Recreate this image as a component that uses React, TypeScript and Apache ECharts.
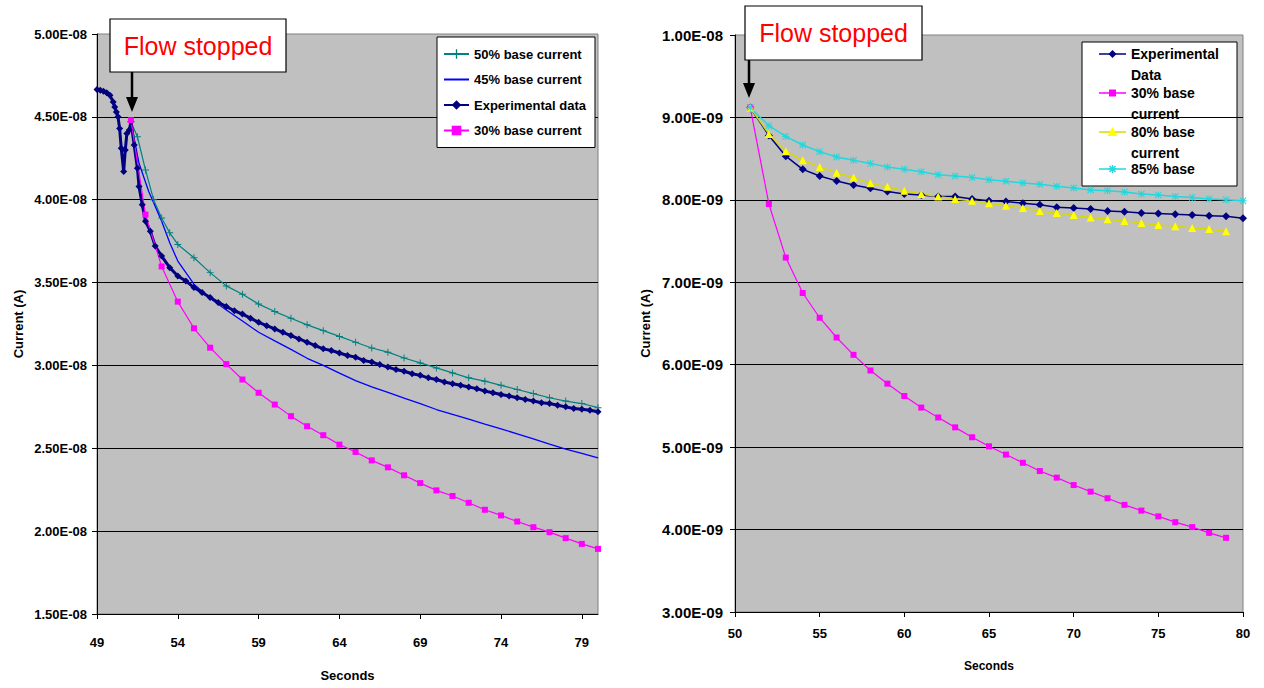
import React, { useEffect, useRef } from "react";
import * as echarts from "echarts";

// ---- Left panel: current in units of 1E-08 A ----
const leftExpTime = [
  49.0, 49.2, 49.4, 49.6, 49.8, 50.0, 50.1, 50.2, 50.3,
  50.4, 50.5, 50.65, 50.75, 50.85, 51.0, 51.1,
  51.3, 51.5, 51.6, 51.8, 52.0, 52.3, 52.6,
  53.0, 53.5, 54.0, 54.5, 55.0, 55.5, 56.0, 56.5, 57.0, 57.5, 58.0, 58.5,
  59.0, 59.5, 60.0, 60.5, 61.0, 61.5, 62.0, 62.5, 63.0, 63.5, 64.0, 64.5,
  65.0, 65.5, 66.0, 66.5, 67.0, 67.5, 68.0, 68.5, 69.0, 69.5, 70.0, 70.5,
  71.0, 71.5, 72.0, 72.5, 73.0, 73.5, 74.0, 74.5, 75.0, 75.5, 76.0, 76.5,
  77.0, 77.5, 78.0, 78.5, 79.0, 79.5, 80.0,
];
const leftExpCurrent = [
  4.665, 4.66, 4.655, 4.645, 4.63, 4.59, 4.56, 4.53, 4.5,
  4.43, 4.31, 4.17, 4.3, 4.4, 4.42, 4.47,
  4.33, 4.19, 4.08, 3.97, 3.87, 3.81, 3.72,
  3.66, 3.59, 3.54, 3.51, 3.47, 3.44, 3.41, 3.38, 3.355, 3.33, 3.31, 3.285,
  3.26, 3.24, 3.22, 3.2, 3.18, 3.16, 3.14, 3.12, 3.1, 3.09, 3.075, 3.06,
  3.05, 3.03, 3.02, 3.005, 2.99, 2.975, 2.965, 2.95, 2.94, 2.925, 2.915, 2.9,
  2.89, 2.88, 2.87, 2.86, 2.845, 2.835, 2.825, 2.815, 2.805, 2.795, 2.785, 2.775,
  2.77, 2.76, 2.75, 2.74, 2.735, 2.73, 2.72,
];

const left50Time = [
  51.1, 51.5, 52.0, 52.5, 53.0, 53.5,
  54, 55, 56, 57, 58, 59, 60, 61, 62, 63, 64, 65, 66, 67,
  68, 69, 70, 71, 72, 73, 74, 75, 76, 77, 78, 79, 80,
];
const left50Current = [
  4.47, 4.38, 4.18, 4.0, 3.89, 3.8,
  3.73, 3.65, 3.56, 3.48, 3.43, 3.37, 3.325, 3.285, 3.245, 3.21, 3.175, 3.14, 3.105, 3.08,
  3.045, 3.015, 2.985, 2.955, 2.925, 2.905, 2.88, 2.855, 2.83, 2.805, 2.785, 2.77, 2.745,
];

const left45Time = [
  51.1, 51.6, 52.2, 53.0, 53.5,
  54, 55, 56, 57, 58, 59, 60, 61, 62, 63, 64, 65, 66, 67,
  68, 69, 70, 71, 72, 73, 74, 75, 76, 77, 78, 79, 80,
];
const left45Current = [
  4.47, 4.22, 4.05, 3.87, 3.74,
  3.63, 3.49, 3.405, 3.335, 3.268, 3.2, 3.148, 3.097, 3.043, 3.0, 2.954, 2.908, 2.871, 2.837,
  2.803, 2.77, 2.734, 2.704, 2.676, 2.646, 2.617, 2.587, 2.557, 2.525, 2.495, 2.47, 2.442,
];

const left30Time = [
  51.1, 52, 53, 54, 55, 56, 57, 58, 59, 60, 61, 62, 63, 64, 65,
  66, 67, 68, 69, 70, 71, 72, 73, 74, 75, 76, 77, 78, 79, 80,
];
const left30Current = [
  4.48, 3.91, 3.597, 3.385, 3.224, 3.107, 3.008, 2.915, 2.835, 2.764, 2.694, 2.633, 2.579, 2.522, 2.478,
  2.427, 2.385, 2.337, 2.29, 2.246, 2.212, 2.171, 2.129, 2.095, 2.058, 2.024, 1.994, 1.958, 1.923, 1.893,
];

const leftXTicks = [49, 54, 59, 64, 69, 74, 79];

// ---- Right panel: current in units of 1E-09 A ----
const rightTimeTo80 = [
  50.9, 52, 53, 54, 55, 56, 57, 58, 59, 60, 61, 62, 63, 64, 65,
  66, 67, 68, 69, 70, 71, 72, 73, 74, 75, 76, 77, 78, 79, 80,
];
const rightTimeTo79 = [
  50.9, 52, 53, 54, 55, 56, 57, 58, 59, 60, 61, 62, 63, 64, 65,
  66, 67, 68, 69, 70, 71, 72, 73, 74, 75, 76, 77, 78, 79,
];
const rightExpCurrent = [
  9.12, 8.78, 8.53, 8.37, 8.29, 8.23, 8.18, 8.14, 8.1, 8.07, 8.06, 8.04, 8.04, 8.01, 7.99,
  7.98, 7.96, 7.94, 7.91, 7.9, 7.89, 7.865, 7.857, 7.84, 7.833, 7.824, 7.816, 7.808, 7.8, 7.776,
];
const right30Current = [
  9.12, 7.95, 7.3, 6.87, 6.57, 6.33, 6.12, 5.93, 5.77, 5.62, 5.48, 5.36, 5.24, 5.12, 5.01,
  4.91, 4.81, 4.71, 4.63, 4.54, 4.46, 4.38, 4.3, 4.23, 4.16, 4.09, 4.03, 3.96, 3.9,
];
const right80Current = [
  9.12, 8.8, 8.59, 8.48, 8.4, 8.33, 8.27, 8.2, 8.16, 8.11, 8.07, 8.04, 8.01, 7.99, 7.96,
  7.93, 7.9, 7.865, 7.84, 7.815, 7.785, 7.765, 7.745, 7.72, 7.695, 7.68, 7.66, 7.645, 7.62,
];
const right85Current = [
  9.12, 8.9, 8.77, 8.665, 8.585, 8.52, 8.48, 8.44, 8.4, 8.37, 8.34, 8.305, 8.29, 8.27, 8.245,
  8.225, 8.205, 8.19, 8.165, 8.145, 8.12, 8.11, 8.095, 8.07, 8.06, 8.04, 8.03, 8.01, 8.0, 7.99,
];

const leftLegendNames = ["50% base current", "45% base current", "Experimental data", "30% base current"];
const rightLegendLabels = [["Experimental", "Data"], ["30% base", "current"], ["80% base", "current"], ["85% base"]];

const FONT = '"Liberation Sans", Arial, Helvetica, sans-serif';
const NAVY = "#000080";
const MAGENTA = "#FF00FF";
const TEAL = "#008080";
const BLUE = "#0000FF";
const YELLOW = "#FFFF00";
const YELLOW_LINE = "#D8D800";
const CYAN = "#20D8DD";

const PLUS = "path://M0,4.3H10V5.7H0Z M4.3,0H5.7V10H4.3Z";
const STAR = "path://M0,4.3H10V5.7H0Z M4.3,0H5.7V10H4.3Z M1,0L10,9L9,10L0,1Z M9,0L10,1L1,10L0,9Z";

function pairs(xs: number[], ys: number[]) {
  return xs.map((x, i) => [x, ys[i]]);
}

function sci(v: number, exp: number) {
  const real = v * Math.pow(10, exp);
  const [m, e] = real.toExponential(2).split("e");
  const n = parseInt(e, 10);
  return `${m}E${n < 0 ? "-" : "+"}${String(Math.abs(n)).padStart(2, "0")}`;
}

const boldText = (size: number) => ({
  fontSize: size,
  fontWeight: "bold" as const,
  color: "#000",
  fontFamily: FONT,
});

function flowStopped(x: number, y: number, w: number, h: number, arrowX: number, tipY: number) {
  return [
    {
      type: "rect",
      z: 100,
      shape: { x, y, width: w, height: h },
      style: { fill: "#fff", stroke: "#000", lineWidth: 1.2 },
    },
    {
      type: "text",
      z: 101,
      x: x + w / 2,
      y: y + h / 2,
      style: {
        text: "Flow stopped",
        fill: "#FF0000",
        fontSize: 25,
        fontFamily: FONT,
        align: "center",
        verticalAlign: "middle",
      },
    },
    {
      type: "line",
      z: 100,
      shape: { x1: arrowX, y1: y + h, x2: arrowX, y2: tipY - 12 },
      style: { stroke: "#000", lineWidth: 2.5 },
    },
    {
      type: "polygon",
      z: 100,
      shape: {
        points: [
          [arrowX - 6, tipY - 15],
          [arrowX + 6, tipY - 15],
          [arrowX, tipY],
        ],
      },
      style: { fill: "#000" },
    },
  ];
}

function legendMarker(kind: string, cx: number, cy: number, color: string) {
  if (kind === "diamond") {
    return [{ type: "polygon", shape: { points: [[cx, cy - 4], [cx + 4, cy], [cx, cy + 4], [cx - 4, cy]] }, style: { fill: color } }];
  }
  if (kind === "square") {
    return [{ type: "rect", shape: { x: cx - 3.5, y: cy - 3.5, width: 7, height: 7 }, style: { fill: color } }];
  }
  if (kind === "triangle") {
    return [{ type: "polygon", shape: { points: [[cx, cy - 5], [cx + 5, cy + 4], [cx - 5, cy + 4]] }, style: { fill: color } }];
  }
  // asterisk
  return [
    { type: "line", shape: { x1: cx - 4, y1: cy, x2: cx + 4, y2: cy }, style: { stroke: color, lineWidth: 1.5 } },
    { type: "line", shape: { x1: cx, y1: cy - 4, x2: cx, y2: cy + 4 }, style: { stroke: color, lineWidth: 1.5 } },
    { type: "line", shape: { x1: cx - 3, y1: cy - 3, x2: cx + 3, y2: cy + 3 }, style: { stroke: color, lineWidth: 1.5 } },
    { type: "line", shape: { x1: cx + 3, y1: cy - 3, x2: cx - 3, y2: cy + 3 }, style: { stroke: color, lineWidth: 1.5 } },
  ];
}

function rightLegend() {
  const rows = [54, 93, 132, 169];
  const styles = [
    { color: NAVY, line: NAVY, kind: "diamond" },
    { color: MAGENTA, line: MAGENTA, kind: "square" },
    { color: YELLOW, line: YELLOW_LINE, kind: "triangle" },
    { color: CYAN, line: CYAN, kind: "star" },
  ];
  const children: any[] = [
    {
      type: "rect",
      shape: { x: 1082, y: 42, width: 155, height: 144 },
      style: { fill: "#fff", stroke: "#000", lineWidth: 1 },
    },
  ];
  rightLegendLabels.forEach((lines, i) => {
    const y = rows[i];
    const s = styles[i];
    children.push({
      type: "line",
      shape: { x1: 1099, y1: y, x2: 1126, y2: y },
      style: { stroke: s.line, lineWidth: 1.5 },
    });
    children.push(...legendMarker(s.kind, 1112.5, y, s.color));
    lines.forEach((t, j) => {
      children.push({
        type: "text",
        x: 1131,
        y: y + j * 20.5,
        style: {
          text: t,
          fill: "#000",
          fontSize: 14,
          fontWeight: "bold",
          fontFamily: FONT,
          align: "left",
          verticalAlign: "middle",
        },
      });
    });
  });
  return { type: "group", z: 100, children };
}

export default function App() {
  const ref = useRef<HTMLDivElement>(null);

  useEffect(() => {
    if (!ref.current) return;
    const chart = echarts.init(ref.current, null, { renderer: "svg" });

    const lineBase = {
      type: "line" as const,
      showSymbol: true,
      showAllSymbol: true,
      silent: true,
      emphasis: { disabled: true },
      animation: false,
    };

    const option: any = {
      animation: false,
      backgroundColor: "#fff",
      textStyle: { fontFamily: FONT },
      grid: [
        {
          left: 97,
          top: 34,
          width: 501,
          height: 580,
          show: true,
          backgroundColor: "#C0C0C0",
          borderColor: "#808080",
          borderWidth: 1,
        },
        {
          left: 735,
          top: 35,
          width: 508,
          height: 577,
          show: true,
          backgroundColor: "#C0C0C0",
          borderColor: "#808080",
          borderWidth: 1,
        },
      ],
      xAxis: [
        {
          gridIndex: 0,
          type: "value",
          min: 49,
          max: 80,
          name: "Seconds",
          nameLocation: "middle",
          nameGap: 55,
          nameTextStyle: boldText(13),
          axisLine: { show: true, onZero: false, lineStyle: { color: "#000", width: 1 } },
          axisTick: { show: true, length: 5, customValues: leftXTicks, lineStyle: { color: "#000" } },
          axisLabel: { customValues: leftXTicks, margin: 22, ...boldText(13) },
          splitLine: { show: false },
        },
        {
          gridIndex: 1,
          type: "value",
          min: 50,
          max: 80,
          interval: 5,
          name: "Seconds",
          nameLocation: "middle",
          nameGap: 48,
          nameTextStyle: boldText(12),
          axisLine: { show: true, onZero: false, lineStyle: { color: "#000", width: 1 } },
          axisTick: { show: true, length: 5, lineStyle: { color: "#000" } },
          axisLabel: { margin: 15, ...boldText(13) },
          splitLine: { show: false },
        },
      ],
      yAxis: [
        {
          gridIndex: 0,
          type: "value",
          min: 1.5,
          max: 5,
          interval: 0.5,
          name: "Current (A)",
          nameLocation: "middle",
          nameGap: 72,
          nameTextStyle: boldText(13),
          axisLine: { show: true, onZero: false, lineStyle: { color: "#000", width: 1 } },
          axisTick: { show: true, length: 5, lineStyle: { color: "#000" } },
          axisLabel: { formatter: (v: number) => sci(v, -8), margin: 10, ...boldText(13) },
          splitLine: { show: true, showMaxLine: false, lineStyle: { color: "#000", width: 1 } },
        },
        {
          gridIndex: 1,
          type: "value",
          min: 3,
          max: 10,
          interval: 1,
          name: "Current (A)",
          nameLocation: "middle",
          nameGap: 83,
          nameTextStyle: boldText(13),
          axisLine: { show: true, onZero: false, lineStyle: { color: "#000", width: 1 } },
          axisTick: { show: true, length: 5, lineStyle: { color: "#000" } },
          axisLabel: { formatter: (v: number) => sci(v, -9), margin: 12, ...boldText(15) },
          splitLine: { show: true, showMaxLine: false, lineStyle: { color: "#000", width: 1 } },
        },
      ],
      legend: [
        {
          data: leftLegendNames.map((name) =>
            name === "45% base current" ? { name, itemStyle: { opacity: 0 } } : { name }
          ),
          orient: "vertical",
          left: 437,
          top: 37,
          padding: [10, 9, 10, 6],
          itemWidth: 25,
          itemHeight: 12,
          itemGap: 11.5,
          backgroundColor: "#fff",
          borderColor: "#000",
          borderWidth: 1,
          borderRadius: 0,
          selectedMode: false,
          textStyle: { ...boldText(13), lineHeight: 14 },
        },
      ],
      series: [
        {
          ...lineBase,
          name: "50% base current",
          xAxisIndex: 0,
          yAxisIndex: 0,
          data: pairs(left50Time, left50Current),
          symbol: PLUS,
          symbolSize: 7,
          lineStyle: { color: TEAL, width: 1.2 },
          itemStyle: { color: TEAL },
        },
        {
          ...lineBase,
          name: "45% base current",
          xAxisIndex: 0,
          yAxisIndex: 0,
          data: pairs(left45Time, left45Current),
          symbol: "none",
          lineStyle: { color: BLUE, width: 1.3 },
          itemStyle: { color: BLUE },
        },
        {
          ...lineBase,
          name: "Experimental data",
          xAxisIndex: 0,
          yAxisIndex: 0,
          data: pairs(leftExpTime, leftExpCurrent),
          symbol: "diamond",
          symbolSize: 7,
          lineStyle: { color: NAVY, width: 3 },
          itemStyle: { color: NAVY },
        },
        {
          ...lineBase,
          name: "30% base current",
          xAxisIndex: 0,
          yAxisIndex: 0,
          data: pairs(left30Time, left30Current),
          symbol: "rect",
          symbolSize: 6,
          lineStyle: { color: MAGENTA, width: 1.2 },
          itemStyle: { color: MAGENTA },
        },
        {
          ...lineBase,
          name: "Experimental Data",
          xAxisIndex: 1,
          yAxisIndex: 1,
          data: pairs(rightTimeTo80, rightExpCurrent),
          symbol: "diamond",
          symbolSize: 8,
          lineStyle: { color: NAVY, width: 1.5 },
          itemStyle: { color: NAVY },
        },
        {
          ...lineBase,
          name: "30% base current (right)",
          xAxisIndex: 1,
          yAxisIndex: 1,
          data: pairs(rightTimeTo79, right30Current),
          symbol: "rect",
          symbolSize: 6,
          lineStyle: { color: MAGENTA, width: 1.2 },
          itemStyle: { color: MAGENTA },
        },
        {
          ...lineBase,
          name: "80% base current",
          xAxisIndex: 1,
          yAxisIndex: 1,
          data: pairs(rightTimeTo79, right80Current),
          symbol: "triangle",
          symbolSize: 8,
          lineStyle: { color: YELLOW_LINE, width: 1.5 },
          itemStyle: { color: YELLOW },
        },
        {
          ...lineBase,
          name: "85% base current",
          xAxisIndex: 1,
          yAxisIndex: 1,
          data: pairs(rightTimeTo80, right85Current),
          symbol: STAR,
          symbolSize: 7,
          lineStyle: { color: CYAN, width: 1.5 },
          itemStyle: { color: CYAN },
        },
      ],
      graphic: [
        ...flowStopped(110, 19, 176, 53, 132, 112),
        ...flowStopped(745, 6, 177, 54, 749, 98),
        rightLegend(),
      ],
    };

    chart.setOption(option);
    return () => chart.dispose();
  }, []);

  return (
    <div
      ref={ref}
      style={{ position: "fixed", left: 0, top: 0, width: 1264, height: 688, background: "#fff" }}
    />
  );
}
